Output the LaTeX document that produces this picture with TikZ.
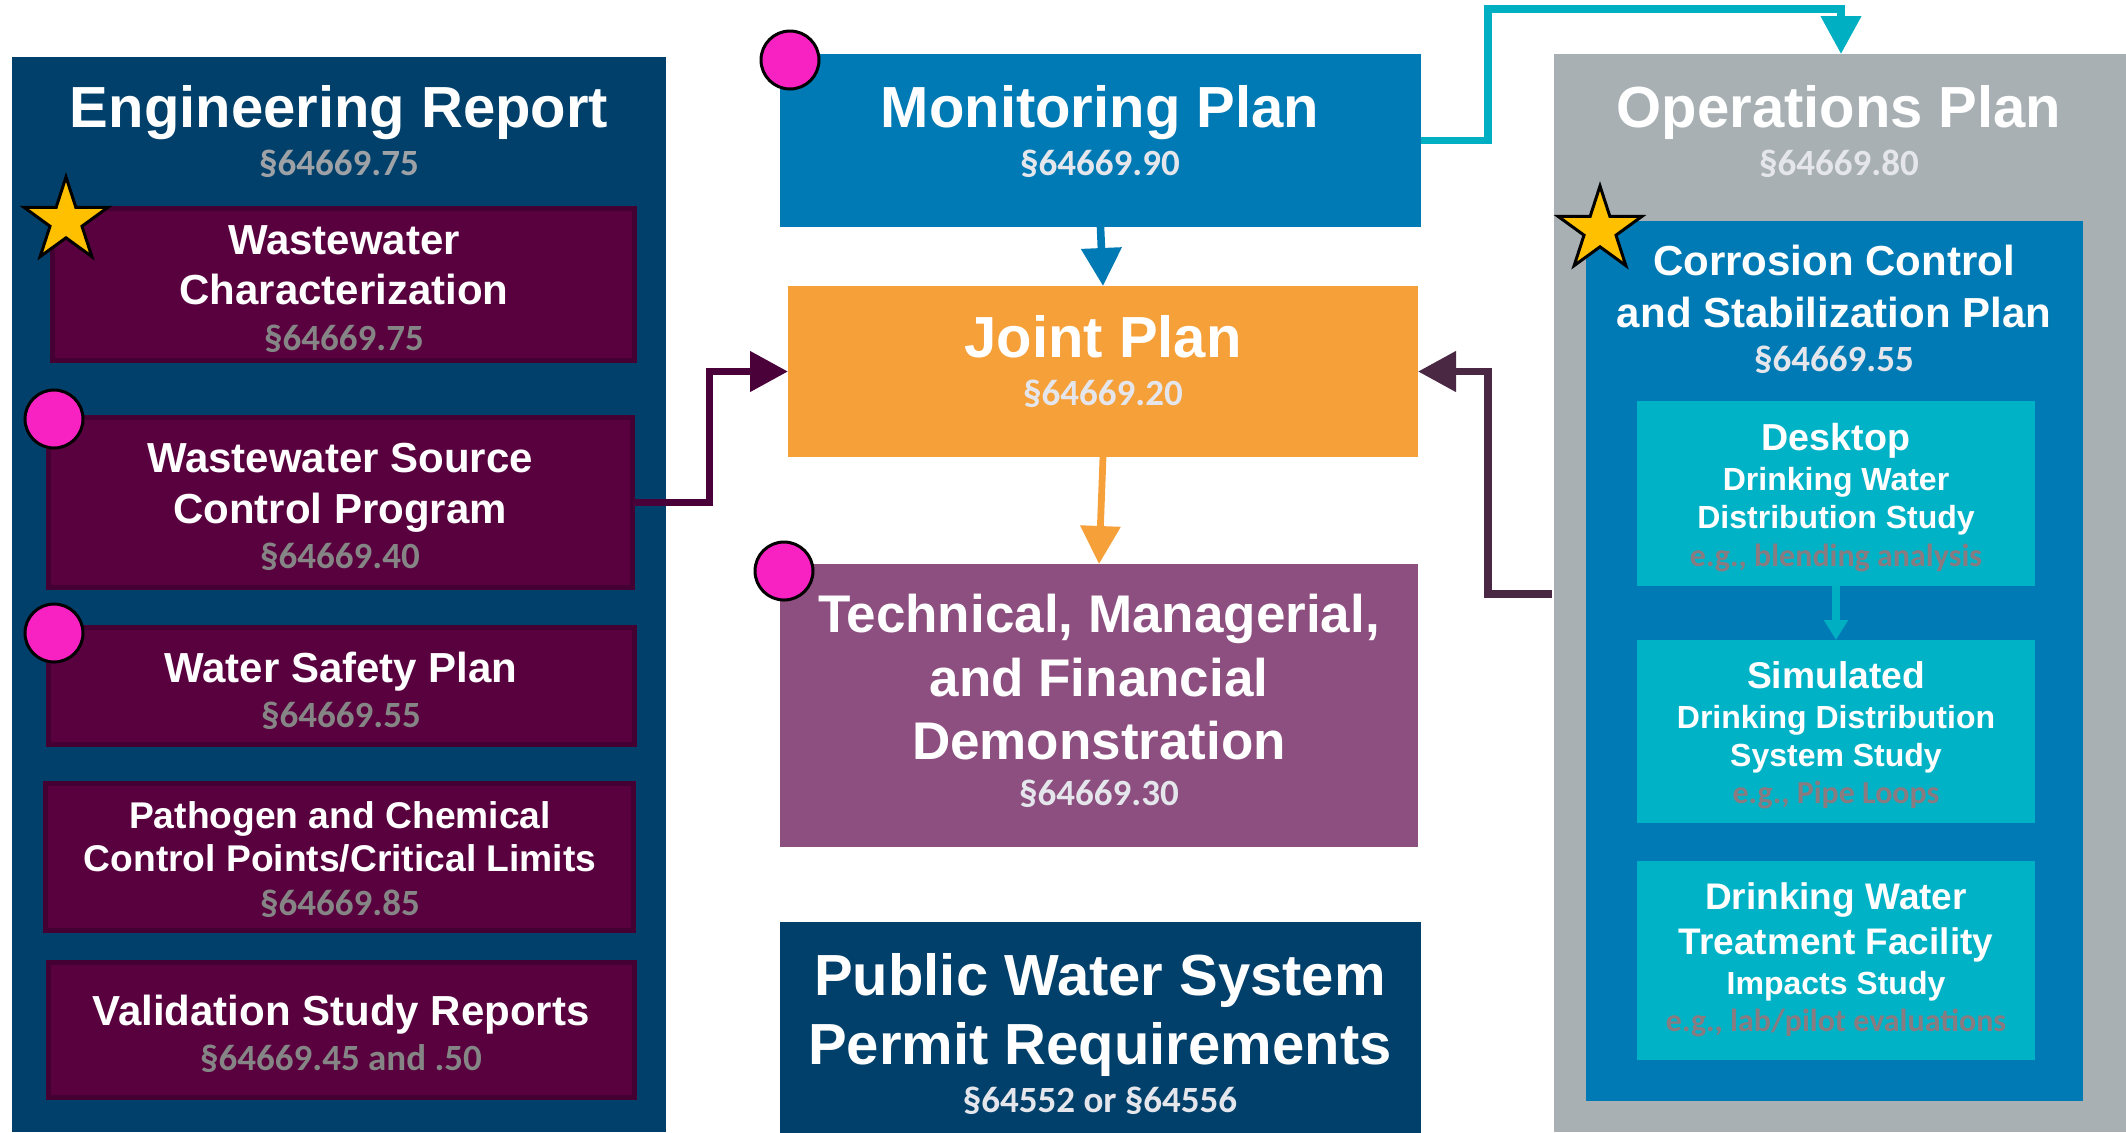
\documentclass[tikz,border=0pt]{standalone}
\usepackage{fontspec}
\setmainfont{Liberation Sans}
\newfontfamily\calb{Carlito}
\usetikzlibrary{arrows.meta,shapes.geometric}
\definecolor{engblue}{HTML}{00406A}
\definecolor{pfill}{HTML}{59003F}
\definecolor{pborder}{HTML}{440033}
\definecolor{monblue}{HTML}{007AB4}
\definecolor{jorange}{HTML}{F6A03A}
\definecolor{techpurple}{HTML}{8C4F80}
\definecolor{opsgray}{HTML}{A8B0B4}
\definecolor{tealbox}{HTML}{00B2C6}
\definecolor{tealline}{HTML}{00AFC2}
\definecolor{magentadot}{HTML}{F821C1}
\definecolor{starfill}{HTML}{FFC000}
\definecolor{seceng}{HTML}{9EA2A6}
\definecolor{secp}{HTML}{858585}
\definecolor{seclight}{HTML}{E4E6EC}
\definecolor{egcol}{HTML}{8A7B80}
\definecolor{lconn}{HTML}{4A0038}
\definecolor{rconn}{HTML}{4A2843}
\begin{document}
\begin{tikzpicture}[x=0.5pt,y=-0.5pt,
  box/.style={rectangle, inner sep=0pt, outer sep=0pt, draw=none},
  pbox/.style={rectangle, inner sep=0pt, outer sep=0pt, fill=pfill, draw=pborder, line width=2.5pt},
  tt/.style={inner sep=0pt, outer sep=0pt, anchor=base, text=white, font=\fontsize{#1}{#1}\selectfont\bfseries},
  ss/.style={inner sep=0pt, outer sep=0pt, anchor=base, font=\calb\fontsize{#1}{#1}\selectfont\bfseries},
  dot/.style={circle, fill=magentadot, draw=black, line width=1.5pt, minimum size=29pt, inner sep=0pt},
  starmark/.style={star, star points=5, star point ratio=2.618, fill=starfill, draw=black, line width=1.5pt, minimum size=44pt, inner sep=0pt},
  bigtip/.style={-{Triangle[length=19pt,width=19.5pt]}},
  conn/.style={line width=3.8pt, bigtip},
]
\useasboundingbox (0,0) rectangle (2126,1132);

% ---------- Engineering Report column ----------
\node[box, fill=engblue, minimum width=327pt, minimum height=537.5pt] (eng) at (339,594.5) {};
\node[tt=29] (engt) at (339,127) {Engineering Report};
\node[ss=18.5, text=seceng] (engs) at (339,175) {§64669.75};

\node[pbox, minimum width=291pt, minimum height=76pt] (wc) at (343.5,284.5) {};
\node[tt=21] (wct1) at (344,254) {Wastewater};
\node[tt=21] (wct2) at (344,304) {Characterization};
\node[ss=18.5, text=secp] (wcs) at (344,350) {§64669.75};

\node[pbox, minimum width=292pt, minimum height=85pt] (wsc) at (340.5,502.5) {};
\node[tt=21] (wsct1) at (340,472) {Wastewater Source};
\node[tt=21] (wsct2) at (340,523) {Control Program};
\node[ss=18.5, text=secp] (wscs) at (340,568) {§64669.40};

\node[pbox, minimum width=293pt, minimum height=58.5pt] (wsp) at (341.5,686) {};
\node[tt=21] (wspt) at (341,682) {Water Safety Plan};
\node[ss=18.5, text=secp] (wsps) at (341,727) {§64669.55};

\node[pbox, minimum width=294pt, minimum height=73.5pt] (pcc) at (339.5,857) {};
\node[tt=18.6] (pcct1) at (340,828) {Pathogen and Chemical};
\node[tt=18.6] (pcct2) at (340,871) {Control Points/Critical Limits};
\node[ss=18.5, text=secp] (pccs) at (340,915) {§64669.85};

\node[pbox, minimum width=293pt, minimum height=67.5pt] (vsr) at (341.5,1030) {};
\node[tt=21] (vsrt) at (341,1025) {Validation Study Reports};
\node[ss=18.5, text=secp] (vsrs) at (341,1070) {§64669.45 and .50};

\node[starmark] (star1) at (66,221) {};
\node[dot] (dot1) at (54,419) {};
\node[dot] (dot2) at (54,633) {};

% ---------- Middle column ----------
\node[box, fill=monblue, minimum width=320.5pt, minimum height=86.5pt] (mon) at (1100.5,140.5) {};
\node[tt=29] (mont) at (1100,127) {Monitoring Plan};
\node[ss=18.5, text=seclight] (mons) at (1100,175) {§64669.90};
\node[dot] (dot3) at (790,60) {};

\node[box, fill=jorange, minimum width=315pt, minimum height=85.5pt] (joint) at (1103,371.5) {};
\node[tt=29] (jointt) at (1103,357) {Joint Plan};
\node[ss=18.5, text=seclight] (joints) at (1103,405) {§64669.20};

\node[box, fill=techpurple, minimum width=319pt, minimum height=141.5pt] (tech) at (1099,705.5) {};
\node[tt=26.5] (techt1) at (1099,632) {Technical, Managerial,};
\node[tt=26.5] (techt2) at (1099,696) {and Financial};
\node[tt=26.5] (techt3) at (1099,759) {Demonstration};
\node[ss=18.5, text=seclight] (techs) at (1099,805) {§64669.30};
\node[dot] (dot4) at (784,571) {};

\node[box, fill=engblue, minimum width=320.5pt, minimum height=110pt] (pws) at (1100.5,1032) {};
\node[tt=29] (pwst1) at (1100,995) {Public Water System};
\node[tt=29] (pwst2) at (1100,1064) {Permit Requirements};
\node[ss=18.5, text=seclight] (pwss) at (1100,1112) {§64552 or §64556};

% ---------- Operations column ----------
\node[box, fill=opsgray, minimum width=287pt, minimum height=539pt] (ops) at (1841,593) {};
\node[tt=29] (opst) at (1839,127) {Operations Plan};
\node[ss=18.5, text=seclight] (opss) at (1839,175) {§64669.80};

\node[box, fill=monblue, minimum width=248.5pt, minimum height=440pt] (ccs) at (1834.5,661) {};
\node[tt=21] (ccst1) at (1834,275) {Corrosion Control};
\node[tt=21] (ccst2) at (1834,327) {and Stabilization Plan};
\node[ss=18.5, text=seclight] (ccss) at (1834,371) {§64669.55};
\node[starmark] (star2) at (1600,230) {};

\node[box, fill=tealbox, minimum width=199pt, minimum height=92.5pt] (desk) at (1836,493.5) {};
\node[tt=18.8] (deskt1) at (1836,450) {Desktop};
\node[tt=16] (deskt2) at (1836,490) {Drinking Water};
\node[tt=16] (deskt3) at (1836,528) {Distribution Study};
\node[ss=16, text=egcol] (desks) at (1836,566) {e.g., blending analysis};

\node[box, fill=tealbox, minimum width=199pt, minimum height=91.5pt] (sim) at (1836,731.5) {};
\node[tt=18.6] (simt1) at (1836,688) {Simulated};
\node[tt=16] (simt2) at (1836,728) {Drinking Distribution};
\node[tt=16] (simt3) at (1836,766) {System Study};
\node[ss=16, text=egcol] (sims) at (1836,803) {e.g., Pipe Loops};

\node[box, fill=tealbox, minimum width=199pt, minimum height=99.5pt] (dwt) at (1836,960.5) {};
\node[tt=18.5] (dwtt1) at (1836,909) {Drinking Water};
\node[tt=18.5] (dwtt2) at (1836,954) {Treatment Facility};
\node[tt=16] (dwtt3) at (1836,994) {Impacts Study};
\node[ss=16, text=egcol] (dwts) at (1836,1031) {e.g., lab/pilot evaluations};

% ---------- Connectors ----------
\coordinate (topbend) at (1488,9);
\coordinate (opsout) at (1552,594);

\draw[monblue, conn] (mon.south) -- (joint.north);
\draw[jorange, conn, line width=3.4pt] (joint.south) -- (tech.north);
\draw[lconn, conn] (wsc.east) -- ++(77,0) |- (joint.west);
\draw[rconn, conn] (opsout) -- ++(-64,0) |- (joint.east);
\draw[tealline, conn] (mon.east) -| (topbend) -| (ops.north);
\draw[tealline, line width=3.6pt, -{Triangle[length=10pt,width=11.5pt]}] (desk.south) -- (sim.north);
\end{tikzpicture}
\end{document}
